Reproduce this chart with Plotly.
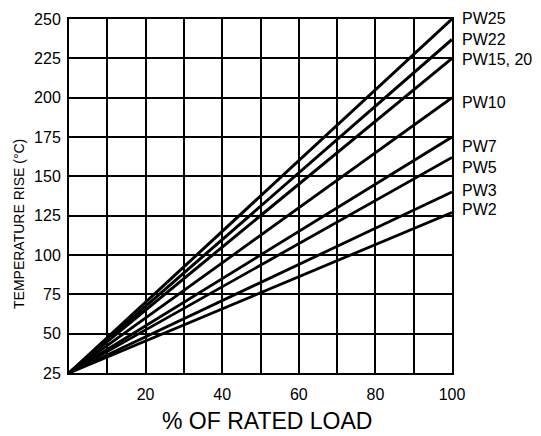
import plotly.graph_objects as go

# Data
load_pct = [0, 100]
start_temp = 25
series_names = ["PW25", "PW22", "PW15, 20", "PW10", "PW7", "PW5", "PW3", "PW2"]
end_temps = [250, 237, 225, 200, 175, 162, 140, 127]
x_tick_vals = [10, 20, 30, 40, 50, 60, 70, 80, 90, 100]
x_tick_text = ["", "20", "", "40", "", "60", "", "80", "", "100"]
y_tick_vals = [25, 50, 75, 100, 125, 150, 175, 200, 225, 250]

# label vertical nudges (pixels) to mimic reference placement
label_yshift = [1, 0, -1, -5, -9, -10, 2, 3]
line_widths = [3, 3, 3, 2.8, 2.8, 2.8, 2.8, 2.8]

FONT = "Liberation Sans, Arial, Helvetica, sans-serif"

fig = go.Figure()
for name, end, lw in zip(series_names, end_temps, line_widths):
    fig.add_trace(go.Scatter(
        x=load_pct, y=[start_temp, end], mode="lines",
        line=dict(color="black", width=lw), name=name, showlegend=False,
        hoverinfo="skip"))

for name, end, ys in zip(series_names, end_temps, label_yshift):
    fig.add_annotation(x=100, y=end, xref="x", yref="y", text=name,
                       showarrow=False, xanchor="left", yanchor="middle",
                       xshift=8, yshift=ys,
                       font=dict(family=FONT, size=16, color="black"))

# axis titles as annotations for precise placement
fig.add_annotation(x=0, y=0.421, xref="paper", yref="paper",
                   text="TEMPERATURE RISE (°C)", textangle=-90,
                   showarrow=False, xanchor="center", yanchor="middle",
                   xshift=-50, font=dict(family=FONT, size=14, color="black"))
fig.add_annotation(x=0.5, y=0, xref="paper", yref="paper",
                   text="% OF RATED LOAD",
                   showarrow=False, xanchor="center", yanchor="middle",
                   xshift=6, yshift=-48, borderpad=0,
                   font=dict(family=FONT, size=23, color="black"))

fig.update_layout(
    width=541, height=436,
    margin=dict(l=61, r=97, t=11, b=71),
    paper_bgcolor="white", plot_bgcolor="white",
    font=dict(family=FONT, color="black"),
)
fig.update_xaxes(
    range=[0, 100], tickvals=x_tick_vals, ticktext=x_tick_text,
    showgrid=True, gridcolor="black", gridwidth=1.6,
    showline=True, linecolor="black", linewidth=2, mirror=True,
    zeroline=False, ticks="", tickfont=dict(family=FONT, size=16, color="black"),
    ticklabelstandoff=6, automargin=False,
)
fig.update_yaxes(
    range=[25, 250], tickvals=y_tick_vals,
    showgrid=True, gridcolor="black", gridwidth=1.6,
    showline=True, linecolor="black", linewidth=2, mirror=True,
    zeroline=False, ticks="", tickfont=dict(family=FONT, size=16, color="black"),
    ticklabelstandoff=3, automargin=False,
)

fig.write_html("out.html")
